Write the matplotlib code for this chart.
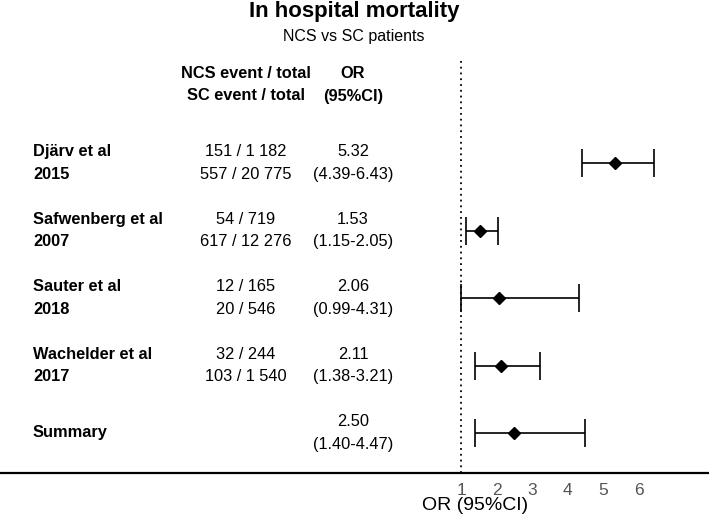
import matplotlib
matplotlib.use("Agg")
import matplotlib.pyplot as plt
import matplotlib.transforms as mtransforms

plt.rcParams['font.family'] = ['Liberation Sans', 'DejaVu Sans']

# ---- data ----
studies = ["Djärv et al", "Safwenberg et al", "Sauter et al", "Wachelder et al"]
years = ["2015", "2007", "2018", "2017"]
ncs_counts = ["151 / 1 182", "54 / 719", "12 / 165", "32 / 244"]
sc_counts = ["557 / 20 775", "617 / 12 276", "20 / 546", "103 / 1 540"]
or_est = [5.32, 1.53, 2.06, 2.11]
or_low = [4.39, 1.15, 0.99, 1.38]
or_high = [6.43, 2.05, 4.31, 3.21]
summary_est = 2.50
summary_low = 1.40
summary_high = 4.47
xticks = [1, 2, 3, 4, 5, 6]

W, H = 709, 521
fig = plt.figure(figsize=(W / 100, H / 100), dpi=100)

# plot axes spanning full width; bottom spine = horizontal axis line
ax_bottom_px, ax_top_px = 473, 58
ax = fig.add_axes([0, (H - ax_bottom_px) / H, 1, (ax_bottom_px - ax_top_px) / H])

x_ref_px, px_per_unit = 461, 35.6
ax.set_xlim(1 - x_ref_px / px_per_unit, 1 + (W - x_ref_px) / px_per_unit)
row0_px, row_step = 163, 67.5
ax.set_ylim((ax_bottom_px - row0_px) / row_step, (ax_top_px - row0_px) / row_step)

for s in ["top", "left", "right"]:
    ax.spines[s].set_visible(False)
ax.spines["bottom"].set_linewidth(1.6)
ax.set_yticks([])
ax.set_xticks(xticks)
ax.set_xticklabels([str(t) for t in xticks])
ax.tick_params(axis="x", length=0, pad=7, labelsize=12.5, labelcolor="#555555")

# reference line at OR = 1
ax.axvline(1, color="black", linestyle=(0, (1, 2.2)), linewidth=1.3)

rows = list(range(len(studies)))
est_all = or_est + [summary_est]
low_all = or_low + [summary_low]
high_all = or_high + [summary_high]
ypos = rows + [len(studies)]
err = [[e - l for e, l in zip(est_all, low_all)], [h - e for e, h in zip(est_all, high_all)]]
ax.errorbar(est_all, ypos, xerr=err, fmt="D", color="black", markersize=6,
            elinewidth=1.2, capsize=10, capthick=1.2)

# text columns
trans = mtransforms.blended_transform_factory(ax.transAxes, ax.transData)
x_name = 33 / W
x_count = 246 / W
x_or = 353 / W
dy = 0.17
fs = 11.8

# headers
hy1 = (73 - row0_px) / row_step
hy2 = (96 - row0_px) / row_step
ax.text(x_count, hy1, "NCS event / total", transform=trans, ha="center", va="center",
        fontsize=fs, fontweight="bold")
ax.text(x_count, hy2, "SC event / total", transform=trans, ha="center", va="center",
        fontsize=fs, fontweight="bold")
ax.text(x_or, hy1, "OR", transform=trans, ha="center", va="center",
        fontsize=fs, fontweight="bold")
ax.text(x_or, hy2, "(95%CI)", transform=trans, ha="center", va="center",
        fontsize=fs, fontweight="bold")

for i, (st, yr, nc, sc, e, l, h) in enumerate(zip(studies, years, ncs_counts, sc_counts,
                                                   or_est, or_low, or_high)):
    ax.text(x_name, i - dy, st, transform=trans, ha="left", va="center", fontsize=fs, fontweight="bold")
    ax.text(x_name, i + dy, yr, transform=trans, ha="left", va="center", fontsize=fs, fontweight="bold")
    ax.text(x_count, i - dy, nc, transform=trans, ha="center", va="center", fontsize=fs)
    ax.text(x_count, i + dy, sc, transform=trans, ha="center", va="center", fontsize=fs)
    ax.text(x_or, i - dy, f"{e:.2f}", transform=trans, ha="center", va="center", fontsize=fs)
    ax.text(x_or, i + dy, f"({l:.2f}-{h:.2f})", transform=trans, ha="center", va="center", fontsize=fs)

ns = len(studies)
ax.text(x_name, ns, "Summary", transform=trans, ha="left", va="center", fontsize=fs, fontweight="bold")
ax.text(x_or, ns - dy, f"{summary_est:.2f}", transform=trans, ha="center", va="center", fontsize=fs)
ax.text(x_or, ns + dy, f"({summary_low:.2f}-{summary_high:.2f})", transform=trans,
        ha="center", va="center", fontsize=fs)

# titles
fig.text(354 / W, 1 - 12 / H, "In hospital mortality", ha="center", va="center",
         fontsize=16, fontweight="bold")
fig.text(354 / W, 1 - 36 / H, "NCS vs SC patients", ha="center", va="center", fontsize=11.5)

# x label
fig.text(422 / W, 1 - 506 / H, "OR (95%CI)", ha="left", va="center", fontsize=14)

fig.savefig("out.png", dpi=100)
